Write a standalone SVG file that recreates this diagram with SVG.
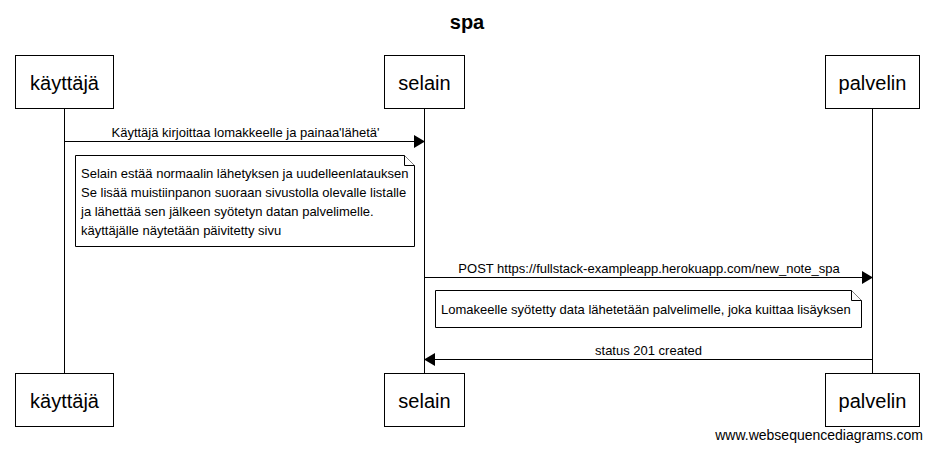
<svg xmlns="http://www.w3.org/2000/svg" width="933" height="451" viewBox="0 0 933 451">
<defs>
<style>
text{font-family:"Liberation Sans",Arial,sans-serif;fill:#000}
.actor{fill:#fff;stroke:#000;stroke-width:1}
.aname{font-size:20px;text-anchor:middle}
.life{stroke:#000;stroke-width:1;fill:none}
.msg{stroke:#000;stroke-width:1;fill:none}
.mlabel{font-size:13px;text-anchor:middle}
.note{fill:#fff;stroke:#000;stroke-width:1}
.ntext{font-size:13px}
.head{fill:#000;stroke:none}
</style>
</defs>
<rect width="933" height="451" fill="#fff"/>
<text x="467" y="29" font-size="20" font-weight="bold" text-anchor="middle">spa</text>

<g id="connectors">
<line class="life" x1="64.5" y1="108" x2="64.5" y2="373"/>
<line class="life" x1="424.5" y1="108" x2="424.5" y2="373"/>
<line class="life" x1="872.5" y1="108" x2="872.5" y2="373"/>

<g id="msg1">
<line class="msg" x1="64.5" y1="141.5" x2="415" y2="141.5"/>
<polygon class="head" points="425,141.5 414,135 414,148"/>
<text class="mlabel" x="245.5" y="136.5">Käyttäjä kirjoittaa lomakkeelle ja painaa'lähetä'</text>
</g>
<g id="msg2">
<line class="msg" x1="424.5" y1="277.5" x2="863" y2="277.5"/>
<polygon class="head" points="873,277.5 862,271 862,284"/>
<text class="mlabel" x="649" y="272.5">POST https://fullstack-exampleapp.herokuapp.com/new_note_spa</text>
</g>
<g id="msg3">
<line class="msg" x1="434" y1="359.5" x2="872.5" y2="359.5"/>
<polygon class="head" points="424,359.5 435,353 435,366"/>
<text class="mlabel" x="648.5" y="354.5">status 201 created</text>
</g>
</g>

<g id="note1">
<path class="note" d="M75.5,155.5 H404.5 L414.5,165.5 V246.5 H75.5 Z"/>
<path class="note" d="M404.5,155.5 V165.5 H414.5" fill="none"/>
<text class="ntext" x="81" y="178">Selain estää normaalin lähetyksen ja uudelleenlatauksen</text>
<text class="ntext" x="81" y="197">Se lisää muistiinpanon suoraan sivustolla olevalle listalle</text>
<text class="ntext" x="81" y="216">ja lähettää sen jälkeen syötetyn datan palvelimelle.</text>
<text class="ntext" x="81" y="235">käyttäjälle näytetään päivitetty sivu</text>
</g>

<g id="note2">
<path class="note" d="M435.5,290.5 H851.5 L861.5,300.5 V327.5 H435.5 Z"/>
<path class="note" d="M851.5,290.5 V300.5 H861.5" fill="none"/>
<text class="ntext" x="441" y="313.5">Lomakeelle syötetty data lähetetään palvelimelle, joka kuittaa lisäyksen</text>
</g>

<g id="kayttaja-top"><rect class="actor" x="15.5" y="55.5" width="98" height="53"/><text class="aname" x="64.5" y="90">käyttäjä</text></g>
<g id="selain-top"><rect class="actor" x="384.5" y="55.5" width="80" height="53"/><text class="aname" x="424.5" y="90">selain</text></g>
<g id="palvelin-top"><rect class="actor" x="825.5" y="55.5" width="94" height="53"/><text class="aname" x="872.5" y="90">palvelin</text></g>

<g id="kayttaja-bottom"><rect class="actor" x="15.5" y="373.5" width="98" height="53"/><text class="aname" x="64.5" y="408">käyttäjä</text></g>
<g id="selain-bottom"><rect class="actor" x="384.5" y="373.5" width="80" height="53"/><text class="aname" x="424.5" y="408">selain</text></g>
<g id="palvelin-bottom"><rect class="actor" x="825.5" y="373.5" width="94" height="53"/><text class="aname" x="872.5" y="408">palvelin</text></g>

<text x="923" y="440" font-size="14" text-anchor="end">www.websequencediagrams.com</text>
</svg>
